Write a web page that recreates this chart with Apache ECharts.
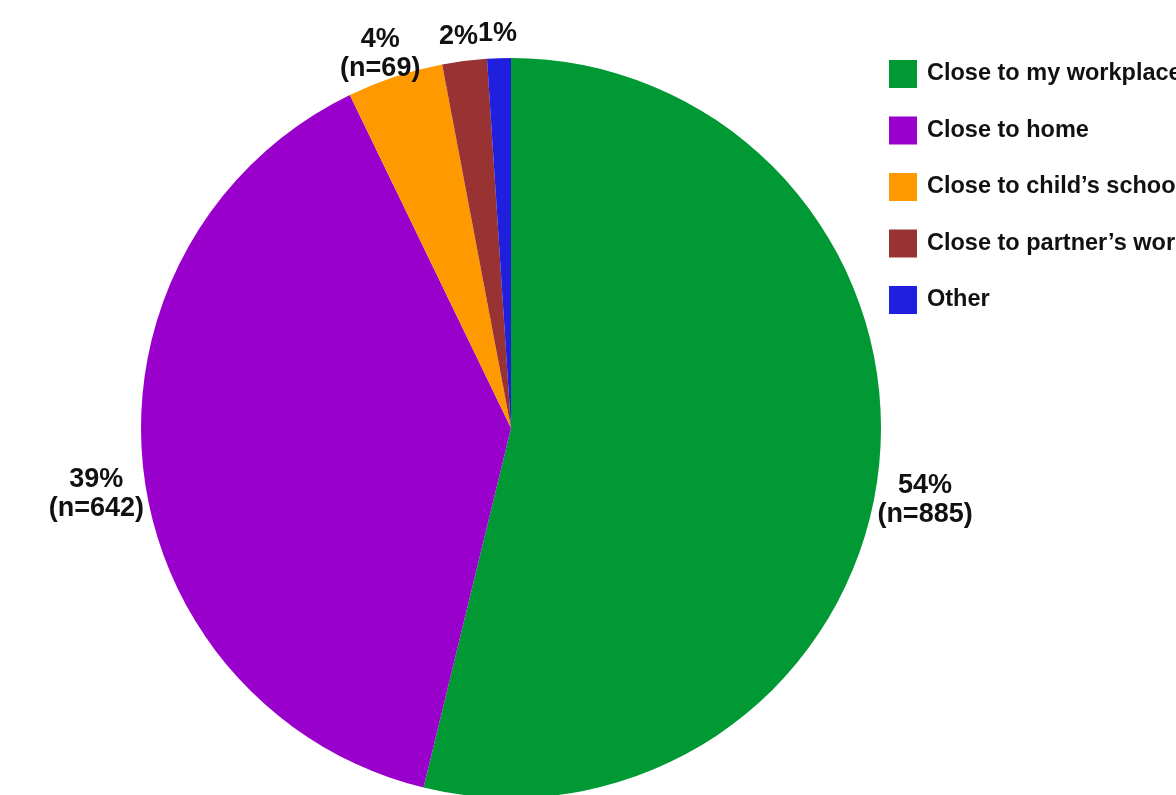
<!DOCTYPE html>
<html lang="en" style="height: 100%">
<head>
<meta charset="utf-8">
<title>Pie chart</title>
</head>
<body style="height: 100%; margin: 0; background: #fff">
<div id="container" style="width: 1176px; height: 795px"></div>
<script type="text/javascript" src="https://cdn.jsdelivr.net/npm/echarts@6/dist/echarts.min.js"></script>
<script type="text/javascript">
var categories = ['Close to my workplace', 'Close to home', 'Close to child\u2019s school', 'Close to partner\u2019s work', 'Other'];
var counts = [885, 642, 69, 32, 17];
var percents = [54, 39, 4, 2, 1];
var colors = ['#009933', '#9900cc', '#ff9900', '#993333', '#1f1fdd'];

var dom = document.getElementById('container');
var myChart = echarts.init(dom, null, { renderer: 'canvas' });

var fontFamily = '"Liberation Sans", Arial, Helvetica, sans-serif';

var pieData = categories.map(function (name, i) {
    return { name: name, value: counts[i], itemStyle: { color: colors[i] } };
});

// small slices get a single-line label
var labelData = categories.map(function (name, i) {
    var small = counts[i] < 50;
    return {
        name: name,
        value: counts[i],
        label: {
            formatter: small ? percents[i] + '%' : percents[i] + '%\n(n=' + counts[i] + ')'
        }
    };
});

var option = {
    backgroundColor: '#ffffff',
    animation: false,
    legend: {
        orient: 'vertical',
        left: 884,
        top: 55,
        itemWidth: 28,
        itemHeight: 28,
        itemGap: 28.5,
        icon: 'rect',
        data: categories,
        selectedMode: false,
        textStyle: {
            fontFamily: fontFamily,
            fontWeight: 'bold',
            fontSize: 23.5,
            color: '#111',
            padding: [0, 0, 0, 5]
        }
    },
    series: [
        {
            name: 'Location',
            type: 'pie',
            center: [511, 428],
            radius: [0, 370],
            startAngle: 90,
            clockwise: true,
            silent: true,
            label: { show: false },
            labelLine: { show: false },
            data: pieData
        },
        {
            // invisible ring that only carries the outside labels
            name: 'Labels',
            type: 'pie',
            center: [511, 450],
            radius: [376, 452],
            startAngle: 90,
            clockwise: true,
            silent: true,
            avoidLabelOverlap: false,
            minShowLabelAngle: 0,
            labelLayout: { hideOverlap: false },
            itemStyle: { color: 'rgba(0,0,0,0)' },
            labelLine: { show: false },
            label: {
                show: true,
                position: 'inside',
                fontFamily: fontFamily,
                fontWeight: 'bold',
                fontSize: 27,
                lineHeight: 29,
                color: '#111'
            },
            data: labelData
        }
    ]
};

myChart.setOption(option);
window.addEventListener('resize', myChart.resize);
</script>
</body>
</html>
